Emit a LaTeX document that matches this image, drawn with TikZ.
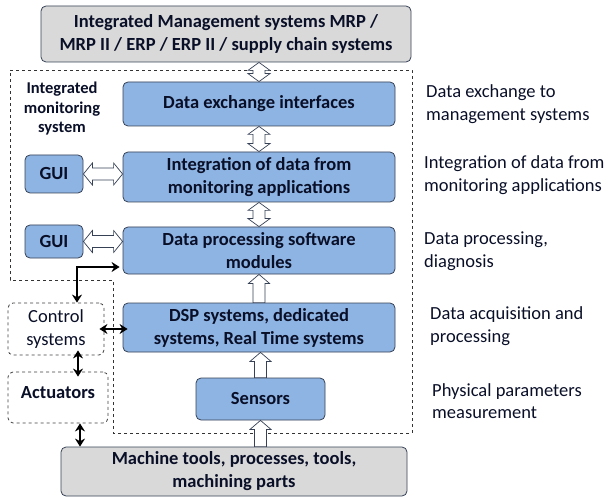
\documentclass[tikz,border=0pt]{standalone}
\usepackage{fontspec}
\setmainfont{Carlito}
\usetikzlibrary{calc,arrows.meta}
\definecolor{boxblue}{RGB}{142,180,227}
\definecolor{boxgray}{RGB}{217,217,217}
\definecolor{edge}{RGB}{55,65,85}
\definecolor{txt}{RGB}{10,15,40}
\begin{document}
\begin{tikzpicture}[x=1pt,y=-1pt,
  bx/.style={draw=edge, line width=0.8pt, rounded corners=5pt, align=center, inner sep=1pt, text=txt,
    font=\fontsize{18.5}{23}\selectfont\bfseries},
  bluebox/.style={bx, fill=boxblue},
  graybox/.style={bx, fill=boxgray},
  dbox/.style={bx, draw=black!75, dashed, fill=white},
  side/.style={anchor=west, align=left, font=\fontsize{18.5}{22.5}\selectfont, inner sep=0pt, text=txt},
  blk/.style={line width=1.4pt, {Stealth[length=8pt,width=10pt]}-{Stealth[length=8pt,width=10pt]}},
  fatup/.style={to path={let \p1=(\tikztostart), \p2=(\tikztotarget) in
    (\x1-6pt,\y1) -- (\x1-6pt,\y2-9pt) -- (\x1-10.5pt,\y2-9pt) -- (\x1,\y2) -- (\x1+10.5pt,\y2-9pt)
    -- (\x1+6pt,\y2-9pt) -- (\x1+6pt,\y1) -- cycle}},
  fatv/.style={to path={let \p1=(\tikztostart), \p2=(\tikztotarget) in
    (\x1,\y1) -- (\x1+11pt,\y1-8pt) -- (\x1+6pt,\y1-8pt) -- (\x1+6pt,\y2+8pt) -- (\x1+11pt,\y2+8pt)
    -- (\x1,\y2) -- (\x1-11pt,\y2+8pt) -- (\x1-6pt,\y2+8pt) -- (\x1-6pt,\y1-8pt) -- (\x1-11pt,\y1-8pt) -- cycle}},
  fath/.style={to path={let \p1=(\tikztostart), \p2=(\tikztotarget) in
    (\x1,\y1) -- (\x1+9pt,\y1+11pt) -- (\x1+9pt,\y1+6pt) -- (\x2-9pt,\y1+6pt) -- (\x2-9pt,\y1+11pt)
    -- (\x2,\y1) -- (\x2-9pt,\y1-11pt) -- (\x2-9pt,\y1-6pt) -- (\x1+9pt,\y1-6pt) -- (\x1+9pt,\y1-11pt) -- cycle}},
  fat/.style={draw=edge, line width=0.7pt, fill=white}
]
\useasboundingbox (0,0) rectangle (613,497);

% dashed region
\draw[dashed, line width=0.7pt, black!80] (10,70) -- (412,70) -- (412,433) -- (113,433) -- (113,280) -- (10,280) -- cycle;

\node[align=center, font=\fontsize{16.5}{19.5}\selectfont\bfseries, inner sep=0pt, text=txt] (ims) at (62,109) {Integrated\\monitoring\\system};

% boxes
\node[graybox, minimum width=370pt, minimum height=56pt] (top) at (226,34) {Integrated Management systems MRP /\\MRP II / ERP / ERP II / supply chain systems};
\node[bluebox, minimum width=272pt, minimum height=44pt] (dx) at (259,104) {Data exchange interfaces};
\node[bluebox, minimum width=272pt, minimum height=50pt] (integ) at (259,177) {Integration of data from\\monitoring applications};
\node[bluebox, minimum width=272pt, minimum height=47pt] (dp) at (259,250.5) {Data processing software\\modules};
\node[bluebox, minimum width=272pt, minimum height=49pt] (dsp) at (259,327.5) {DSP systems, dedicated\\systems, Real Time systems};
\node[bluebox, minimum width=129pt, minimum height=42pt] (sens) at (260.5,399) {Sensors};
\node[graybox, minimum width=346pt, minimum height=49pt] (mach) at (234,471.5) {Machine tools, processes, tools,\\machining parts};
\node[bluebox, minimum width=58pt, minimum height=38pt] (gui1) at (54,174) {GUI};
\node[bluebox, minimum width=58pt, minimum height=33pt] (gui2) at (54,241.5) {GUI};
\node[dbox, minimum width=96pt, minimum height=52pt, font=\fontsize{18.5}{23}\selectfont] (ctrl) at (56,329) {Control\\systems};
\node[dbox, minimum width=100pt, minimum height=51pt] (act) at (58,397.5) {};
\node[font=\fontsize{18.5}{23}\selectfont\bfseries, text=txt, inner sep=0pt] (actl) at (58,393) {Actuators};

% side labels
\node[side] (r1) at (426,104) {Data exchange to\\management systems};
\node[side] (r2) at (424,175) {Integration of data from\\monitoring applications};
\node[side] (r3) at (424,251) {Data processing,\\diagnosis};
\node[side] (r4) at (430,326) {Data acquisition and\\processing};
\node[side] (r5) at (432,401) {Physical parameters\\measurement};

% hollow arrows
\path[fat] (dx.north |- top.south) to[fatv] (dx.north);
\path[fat] (dx.south) to[fatv] (integ.north);
\path[fat] (integ.south) to[fatv] (dp.north);
\path[fat] (dsp.north) to[fatup] (dp.south);
\path[fat] (sens.north) to[fatup] (sens.north |- dsp.south);
\path[fat] (sens.south |- mach.north) to[fatup] (sens.south);
\path[fat] (gui1.east) to[fath] (integ.west |- gui1.east);
\path[fat] (gui2.east) to[fath] (dp.west |- gui2.east);

% black arrows
\coordinate (k) at (77,267);
\draw[blk] (ctrl.north -| k) -- (k) -- ([xshift=-3pt]dp.west |- k);
\draw[blk] ([xshift=-5pt]ctrl.east) -- ([xshift=5pt]dsp.west |- ctrl.east);
\coordinate (c1) at (78,0);
\draw[blk] ([yshift=5pt]ctrl.south -| c1) -- ([yshift=-5pt]act.north -| c1);
\coordinate (c2) at (80,0);
\draw[blk] (act.south -| c2) -- (mach.north -| c2);
\end{tikzpicture}
\end{document}
